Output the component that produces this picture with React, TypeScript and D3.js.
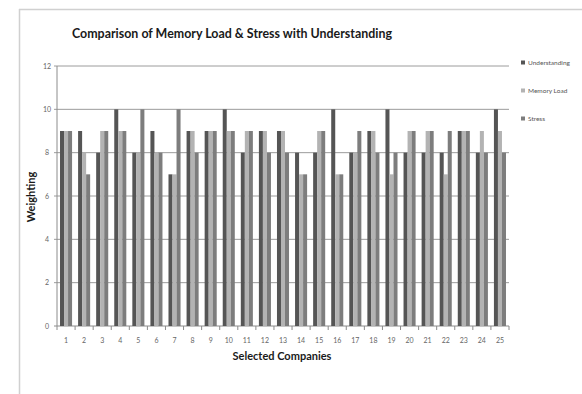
import React from "react";
import * as d3 from "d3";

// Companies surveyed and the three weighting series per company
const companies = ["1","2","3","4","5","6","7","8","9","10","11","12","13","14","15","16","17","18","19","20","21","22","23","24","25"];
const understanding = [9, 9, 8, 10, 8, 9, 7, 9, 9, 10, 8, 9, 9, 8, 8, 10, 8, 9, 10, 8, 8, 8, 9, 8, 10];
const memoryLoad = [9, 8, 9, 9, 8, 8, 7, 9, 9, 9, 9, 9, 9, 7, 9, 7, 8, 9, 7, 9, 9, 7, 9, 9, 9];
const stress = [9, 7, 9, 9, 10, 8, 10, 8, 9, 9, 9, 8, 8, 7, 9, 7, 9, 8, 8, 9, 9, 9, 9, 8, 8];
const seriesNames = ["Understanding", "Memory Load", "Stress"];
const yTicks = [0, 2, 4, 6, 8, 10, 12];

const seriesColors = ["#555555", "#b3b3b3", "#7d7d7d"];
const FONT = "Lato, 'Open Sans', 'Liberation Sans', sans-serif";

export default function App() {
  const W = 582, H = 394;
  const plot = { left: 57, right: 509, top: 66, bottom: 326 };

  const x0 = d3.scaleBand<string>().domain(companies).range([plot.left, plot.right]).padding(0);
  const x1 = d3.scaleBand<string>().domain(seriesNames).range([0, x0.bandwidth()]).paddingInner(0).paddingOuter(0.75);
  const y = d3.scaleLinear().domain([0, 12]).range([plot.bottom, plot.top]);

  const allSeries = [understanding, memoryLoad, stress];

  return (
    <svg width={W} height={H} style={{ position: "absolute", left: 0, top: 0, background: "#fff" }}>
      {/* chart frame */}
      <line x1={19} y1={9.5} x2={W} y2={9.5} stroke="#d0d0d0" strokeWidth={1.5} />
      <line x1={19.5} y1={9} x2={19.5} y2={H} stroke="#d0d0d0" strokeWidth={1.5} />

      <text x={232} y={38} textAnchor="middle" fontFamily={FONT} fontWeight="bold" fontSize={14} fill="#1a1a1a" textLength={320} lengthAdjust="spacingAndGlyphs">
        Comparison of Memory Load &amp; Stress with Understanding
      </text>

      {/* gridlines and y tick labels */}
      {yTicks.map((t) => (
        <g key={t}>
          <line x1={plot.left - 3} x2={plot.right} y1={y(t)} y2={y(t)} stroke={t === 0 ? "#8c8c8c" : "#9c9c9c"} strokeWidth={1} />
          <text x={47} y={y(t) + 2.5} textAnchor="middle" fontFamily={FONT} fontSize={7} fill="#666">{t}</text>
        </g>
      ))}
      <line x1={plot.left} x2={plot.left} y1={plot.top} y2={plot.bottom} stroke="#8c8c8c" strokeWidth={1} />

      {/* bars */}
      {companies.map((c, i) => (
        <g key={c} transform={`translate(${x0(c)},0)`}>
          {seriesNames.map((s, k) => (
            <rect key={s} x={x1(s)} y={y(allSeries[k][i])} width={x1.bandwidth()} height={plot.bottom - y(allSeries[k][i])} fill={seriesColors[k]} />
          ))}
        </g>
      ))}

      {/* category ticks and labels */}
      {companies.map((c, i) => (
        <g key={c}>
          <line x1={x0(c)!} x2={x0(c)!} y1={plot.bottom} y2={plot.bottom + 4} stroke="#8c8c8c" />
          <text x={x0(c)! + x0.bandwidth() / 2} y={343} textAnchor="middle" fontFamily={FONT} fontSize={7} fill="#666">{c}</text>
        </g>
      ))}
      <line x1={plot.right} x2={plot.right} y1={plot.bottom} y2={plot.bottom + 4} stroke="#8c8c8c" />

      <text x={282} y={360} textAnchor="middle" fontFamily={FONT} fontWeight="bold" fontSize={11} fill="#1a1a1a">Selected Companies</text>
      <text transform="translate(35,197) rotate(-90)" textAnchor="middle" fontFamily={FONT} fontWeight="bold" fontSize={11} fill="#1a1a1a">Weighting</text>

      {/* legend */}
      {seriesNames.map((s, k) => (
        <g key={s} transform={`translate(521,${63 + k * 28})`}>
          <rect x={0} y={-2.5} width={4} height={4} fill={seriesColors[k]} />
          <text x={7} y={1.5} fontFamily={FONT} fontSize={6.5} fill="#555">{s}</text>
        </g>
      ))}
    </svg>
  );
}
